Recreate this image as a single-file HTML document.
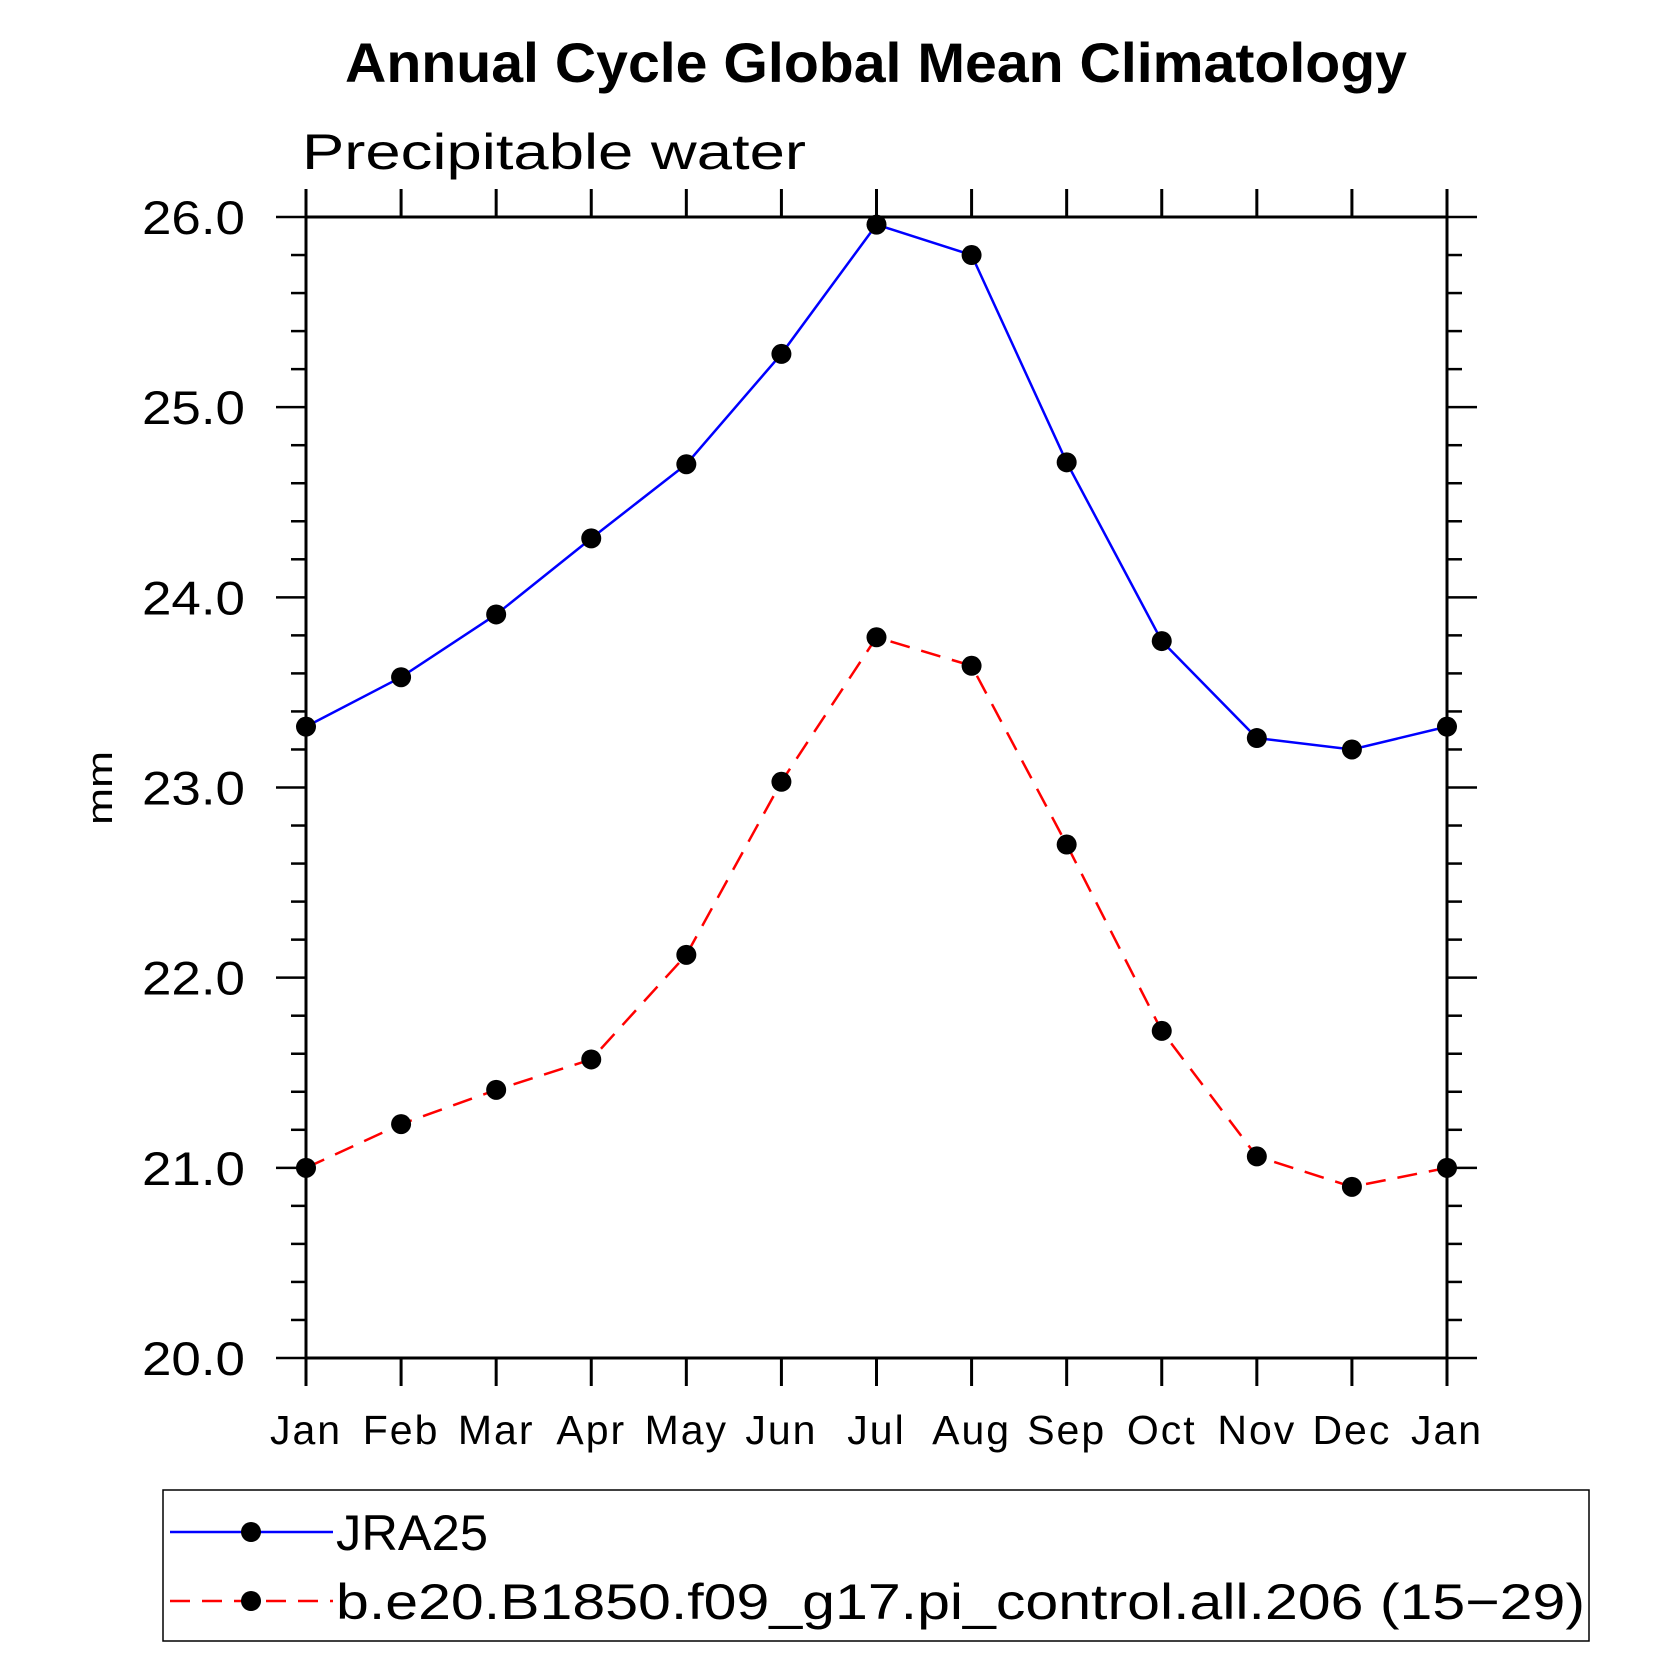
<!DOCTYPE html>
<html><head><meta charset="utf-8"><style>
html,body{margin:0;padding:0;background:#fff}
svg{display:block}
text{font-family:"Liberation Sans",sans-serif}
</style></head><body>
<svg id="chart" width="1680" height="1680" viewBox="0 0 1680 1680">
<text x="345" y="82" font-size="56" font-weight="bold" textLength="1062" lengthAdjust="spacingAndGlyphs">Annual Cycle Global Mean Climatology</text>
<text x="302" y="169" font-size="50" font-weight="300" textLength="504" lengthAdjust="spacingAndGlyphs">Precipitable water</text>
<text transform="translate(112,788) rotate(-90)" text-anchor="middle" font-size="36" font-weight="300" textLength="74" lengthAdjust="spacingAndGlyphs">mm</text>
<g id="axes"></g>
<g id="series"></g>
<g id="legend"></g>
</svg>
<script>
const months = ["Jan","Feb","Mar","Apr","May","Jun","Jul","Aug","Sep","Oct","Nov","Dec","Jan"];
const jra25 = [23.32,23.58,23.91,24.31,24.70,25.28,25.96,25.80,24.71,23.77,23.26,23.20,23.32];
const model = [21.00,21.23,21.41,21.57,22.12,23.03,23.79,23.64,22.70,21.72,21.06,20.90,21.00];
const yTicks = ["20.0","21.0","22.0","23.0","24.0","25.0","26.0"];
const seriesNames = ["JRA25","b.e20.B1850.f09_g17.pi_control.all.206 (15\u221229)"];

const L=306,R=1447,T=217,B=1358,yMin=20,yMax=26;
const NS="http://www.w3.org/2000/svg";
function xS(i){return L+(R-L)*i/(months.length-1);}
function yS(v){return B-(B-T)*(v-yMin)/(yMax-yMin);}
function mk(tag,attrs,parent){const e=document.createElementNS(NS,tag);for(const k in attrs)e.setAttribute(k,attrs[k]);parent.appendChild(e);return e;}
const axes=document.getElementById('axes');
const frame=mk('rect',{x:L,y:T,width:R-L,height:B-T,fill:'none',stroke:'#000','stroke-width':3},axes);


months.forEach((m,i)=>{
  const x=xS(i);
  const t1=mk('line',{x1:x,y1:B,x2:x,y2:B+28,stroke:'#000','stroke-width':3},axes);
  
  
  const t2=mk('line',{x1:x,y1:T,x2:x,y2:T-28,stroke:'#000','stroke-width':3},axes);
  
  
  const lb=mk('text',{x:x,y:1444,'text-anchor':'middle','font-size':41,'font-weight':300,'letter-spacing':2},axes);
  lb.textContent=m;
  
  
});
for(let k=0;k<=30;k++){
  const v=yMin+k*0.2, y=yS(v), major=(k%5===0);
  const len=major?30:15;
  const a=mk('line',{x1:L-len,y1:y,x2:L,y2:y,stroke:'#000','stroke-width':2.5},axes);
  
  
  const b=mk('line',{x1:R,y1:y,x2:R+len,y2:y,stroke:'#000','stroke-width':2.5},axes);
  
  
}
yTicks.forEach(s=>{
  const lb=mk('text',{x:142,y:yS(parseFloat(s))+17,'font-size':47,'font-weight':300,textLength:103,lengthAdjust:'spacingAndGlyphs'},axes);
  lb.textContent=s;
  
  
});
const sg=document.getElementById('series');
function drawSeries(vals,color,dash,name){
  const pts=vals.map((v,i)=>xS(i)+','+yS(v)).join(' ');
  const pl=mk('polyline',{points:pts,fill:'none',stroke:color,'stroke-width':2.5,'stroke-dasharray':dash},sg);
  
  
  vals.forEach((v,i)=>{
    const c=mk('circle',{cx:xS(i),cy:yS(v),r:10,fill:'#000'},sg);
    
    
  });
}
drawSeries(jra25,'#0000ff','none','jra25');
drawSeries(model,'#ff0000','20,12','model');
const lg=document.getElementById('legend');
const box=mk('rect',{x:163,y:1490,width:1426,height:151,fill:'none',stroke:'#000','stroke-width':1.5},lg);


const rows=[{y:1532,c:'#0000ff',d:'none',w:152},{y:1601,c:'#ff0000',d:'20,12',w:1249}];
rows.forEach((r,i)=>{
  const ln=mk('line',{x1:170,y1:r.y,x2:333,y2:r.y,stroke:r.c,'stroke-width':2.5,'stroke-dasharray':r.d},lg);
  
  
  const c=mk('circle',{cx:251,cy:r.y,r:10,fill:'#000'},lg);
  
  
  const t=mk('text',{x:336,y:r.y+18,'font-size':50,'font-weight':300,textLength:r.w,lengthAdjust:'spacingAndGlyphs'},lg);
  t.textContent=seriesNames[i];
  
  
});
</script>
</body></html>
